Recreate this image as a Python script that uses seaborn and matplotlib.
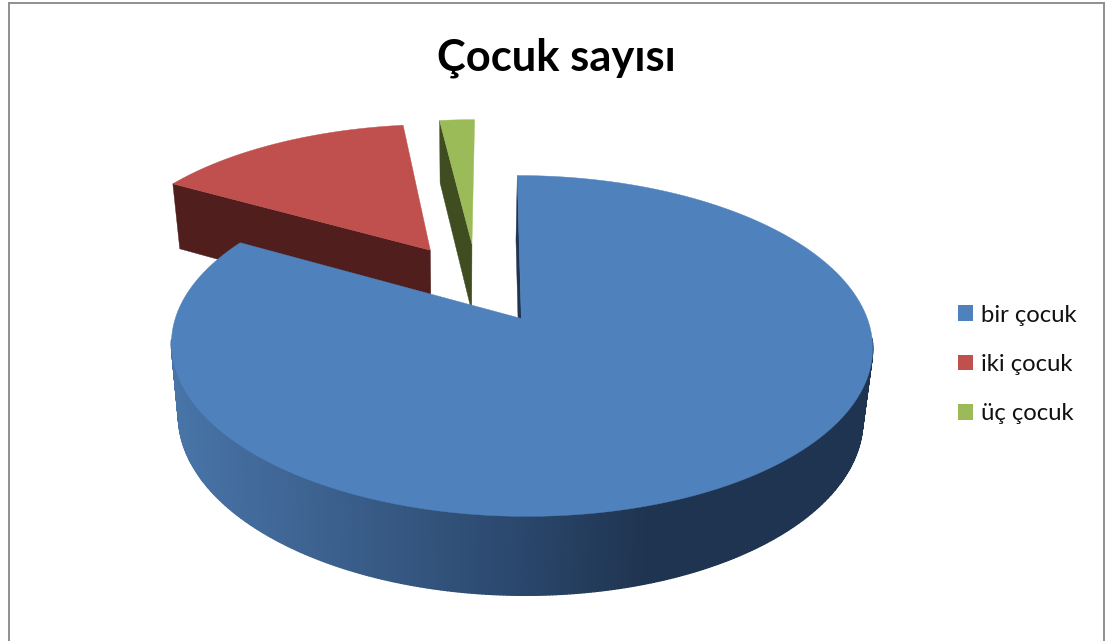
import numpy as np
import matplotlib
matplotlib.use("Agg")
import matplotlib.pyplot as plt
from matplotlib.patches import Patch
from matplotlib.colors import LinearSegmentedColormap
import seaborn as sns

title = "Çocuk sayısı"
labels = ["bir çocuk", "iki çocuk", "üç çocuk"]
values = [83.2, 14.8, 2.0]
top_colors = ["#4f81bd", "#bf504d", "#9bbb59"]
wall_colors = ["#1f3450", "#4f1e1d", "#3f4d20"]
explode = 0.26

sns.set_theme(style="white")
palette = sns.color_palette(top_colors)
plt.rcParams["font.family"] = ["Lato", "DejaVu Sans"]

fig = plt.figure(figsize=(11.05, 6.41), dpi=100, facecolor="white")
ax = fig.add_axes([0, 0, 1, 1])
ax.set_xlim(0, 1105)
ax.set_ylim(641, 0)
ax.axis("off")

# perspective of the pie plane, in pixels
P, X0, Y0, RX, RY, U0 = 0.161, 492.5, 318.5, 346.0, 166.0, 0.0832


def top(u, v):
    w = 1 + P * v
    return X0 + RX * (u + U0) / w, Y0 - RY * v / w


def low(x, y):
    return 462 + (x - 462) * 0.976, y + 65 + (y - 184) * 0.042


def direction(a):
    r = np.radians(a)
    return np.sin(r), np.cos(r)


edges = np.concatenate([[0], np.cumsum(values)]) * 3.6 / (sum(values) / 100)
mids = (edges[:-1] + edges[1:]) / 2
base = np.array(direction(mids[0]))


def wedge(i):
    off = explode * (np.array(direction(mids[i])) - base)
    a = np.linspace(edges[i], edges[i + 1], max(4, int(edges[i + 1] - edges[i]) * 2))
    du, dv = direction(a)
    ox, oy = top(off[0], off[1])
    ax_, ay_ = top(off[0] + du, off[1] + dv)
    return (ox, oy), ax_, ay_, a


def side_wall(i, colour, z):
    apex, xs, ys, _ = wedge(i)
    p = [apex, (xs[0], ys[0]), low(xs[0], ys[0]), low(*apex)]
    ax.fill(*zip(*p), color=colour, lw=0.3, zorder=z)


def top_face(i, z):
    apex, xs, ys, _ = wedge(i)
    ax.fill(np.r_[apex[0], xs], np.r_[apex[1], ys], color=palette[i], lw=0.3, zorder=z)


# back slices first
side_wall(2, wall_colors[2], 1)
top_face(2, 2)
side_wall(1, wall_colors[1], 1)
top_face(1, 2)

# blue slice: shaded outer wall, thin inner wall, top
shade = LinearSegmentedColormap.from_list(
    "wall",
    [(0.0, "#4874a8"), (0.185, "#3e6492"), (0.47, "#2c4a70"), (0.68, "#1f3450"), (1.0, "#1f3450")],
)
side_wall(0, wall_colors[0], 3)
apex0, xs0, ys0, ang0 = wedge(0)
for j in range(len(xs0) - 1):
    if np.cos(np.radians((ang0[j] + ang0[j + 1]) / 2)) > -0.12:
        continue
    lx0, ly0 = low(xs0[j], ys0[j])
    lx1, ly1 = low(xs0[j + 1], ys0[j + 1])
    c = shade(np.clip(((xs0[j] + xs0[j + 1]) / 2 - 171) / 702, 0, 1))
    ax.fill([xs0[j], xs0[j + 1], lx1, lx0], [ys0[j], ys0[j + 1], ly1, ly0],
            color=c, lw=1.0, zorder=3)
top_face(0, 4)

# chart frame
ax.plot([8.5, 8.5, 1104, 1104], [641, 3, 3, 641], color="#8f8f8f", lw=1.4, zorder=5,
        solid_joinstyle="miter")

ax.text(556.5, 71, title, ha="center", va="baseline", fontsize=31.3, fontweight="bold",
        color="black", zorder=6)

handles = [Patch(facecolor=palette[i], edgecolor="none", label=labels[i]) for i in range(3)]
ax.legend(handles=handles, loc="center left", bbox_to_anchor=(958 / 1105, 1 - 364.5 / 641),
          frameon=False, fontsize=17.2, handlelength=0.64, handleheight=0.64,
          handletextpad=0.33, labelspacing=1.19, borderpad=0, borderaxespad=0,
          labelcolor="#111111")

fig.savefig("out.png", dpi=100, facecolor="white")
